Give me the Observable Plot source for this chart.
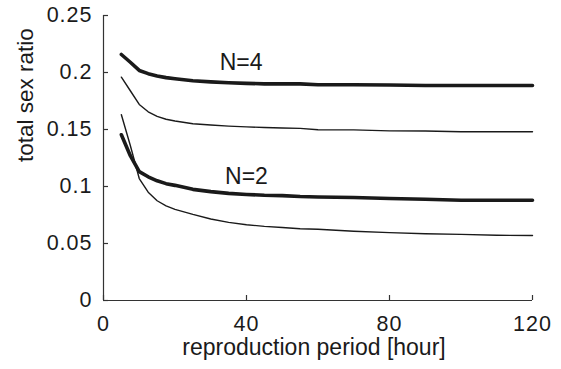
<!DOCTYPE html>
<html>
<head>
<meta charset="utf-8">
<script src="https://cdn.jsdelivr.net/npm/d3@7"></script>
<script src="https://cdn.jsdelivr.net/npm/@observablehq/plot@0.6"></script>
<style>
  html, body { margin: 0; padding: 0; background: #fff; }
  g[aria-label="x-axis tick label"] text, g[aria-label="y-axis tick label"] text { letter-spacing: 1px; }
  g[aria-label="xlabel"] text { letter-spacing: 0.3px; }
</style>
</head>
<body>
<div id="chart"></div>
<script>
const periods = [5, 7.5, 10, 12.5, 15, 17.5, 20, 25, 30, 35, 40, 45, 50, 55, 60, 70, 80, 90, 100, 110, 120];
const n4Thick = [0.2158, 0.209, 0.2018, 0.199, 0.197, 0.1955, 0.1945, 0.1928, 0.1918, 0.191, 0.1905, 0.190, 0.190, 0.190, 0.1893, 0.1892, 0.189, 0.1886, 0.1886, 0.1886, 0.1886];
const n4Thin  = [0.1959, 0.184, 0.172, 0.1655, 0.1615, 0.159, 0.1575, 0.155, 0.154, 0.153, 0.1523, 0.1517, 0.1513, 0.151, 0.1498, 0.1497, 0.1488, 0.1487, 0.148, 0.148, 0.148];
const n2Thick = [0.1454, 0.127, 0.113, 0.1085, 0.105, 0.1025, 0.101, 0.0975, 0.0955, 0.094, 0.093, 0.0923, 0.092, 0.0912, 0.0908, 0.0903, 0.0895, 0.0888, 0.088, 0.088, 0.088];
const n2Thin  = [0.163, 0.136, 0.107, 0.095, 0.0875, 0.083, 0.080, 0.0755, 0.0715, 0.0685, 0.0665, 0.065, 0.064, 0.063, 0.0625, 0.0608, 0.0595, 0.0585, 0.058, 0.0572, 0.057];

const labelTexts = ["N=4", "N=2"];
const labelX = [38.5, 40];
const labelY = [0.209, 0.109];

const xTicks = [0, 40, 80, 120];
const yTicks = [0, 0.05, 0.1, 0.15, 0.2, 0.25];
const yTickLabels = ["0", "0.05", "0.1", "0.15", "0.2", "0.25"];
const xTitle = "reproduction period [hour]";
const yTitle = "total sex ratio";

const mk = (ys) => periods.map((x, i) => ({x, y: ys[i]}));
const labels = labelTexts.map((t, i) => ({t, x: labelX[i], y: labelY[i]}));
const ink = "#1a1a1a";
const axisInk = "#333";

const chart = Plot.plot({
  width: 561,
  height: 369,
  marginLeft: 103,
  marginRight: 29,
  marginTop: 15,
  marginBottom: 69,
  x: {domain: [0, 120]},
  y: {domain: [0, 0.25]},
  style: {fontFamily: "'Liberation Sans', Arial, sans-serif", background: "#fff", color: ink},
  marks: [
    Plot.ruleX([0], {stroke: axisInk, strokeWidth: 1.2}),
    Plot.ruleY([0], {stroke: axisInk, strokeWidth: 1.2}),
    Plot.tickY(yTicks, {y: d => d, insetRight: 424, stroke: axisInk, strokeWidth: 1.2}),
    Plot.tickX(xTicks, {x: d => d, insetTop: 280, stroke: axisInk, strokeWidth: 1.2}),
    Plot.axisX(xTicks, {tickSize: 0, tickPadding: 15, fontSize: 21.5, label: null, tickFormat: d => String(d), fill: ink}),
    Plot.axisY(yTicks, {tickSize: 0, tickPadding: 11, fontSize: 21.5, label: null, tickFormat: d => yTickLabels[yTicks.indexOf(d)], fill: ink}),
    Plot.line(mk(n4Thick), {x: "x", y: "y", stroke: ink, strokeWidth: 3.6, strokeLinejoin: "round", strokeLinecap: "round"}),
    Plot.line(mk(n4Thin), {x: "x", y: "y", stroke: ink, strokeWidth: 1.4}),
    Plot.line(mk(n2Thick), {x: "x", y: "y", stroke: ink, strokeWidth: 3.6, strokeLinejoin: "round", strokeLinecap: "round"}),
    Plot.line(mk(n2Thin), {x: "x", y: "y", stroke: ink, strokeWidth: 1.4}),
    Plot.text(labels, {x: "x", y: "y", text: "t", fontSize: 23, fill: ink}),
    Plot.text([xTitle], {frameAnchor: "bottom", dy: 54, dx: -4, fontSize: 23, fill: ink, ariaLabel: "xlabel"}),
    Plot.text([yTitle], {frameAnchor: "left", rotate: -90, dx: -78, dy: 4, fontSize: 22.5, fill: ink})
  ]
});
document.getElementById("chart").appendChild(chart);
</script>
</body>
</html>
